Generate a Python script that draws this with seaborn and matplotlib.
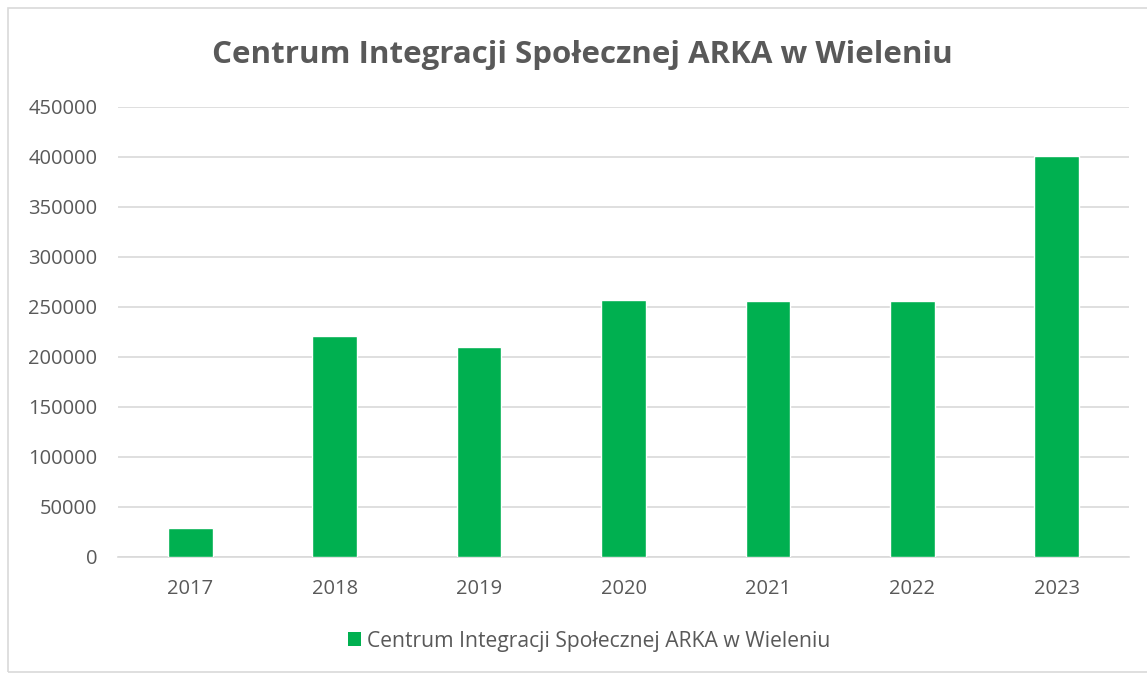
import matplotlib
matplotlib.use("Agg")
import matplotlib.pyplot as plt
import seaborn as sns
import pandas as pd
from matplotlib.patches import Rectangle, Patch

years = ["2017", "2018", "2019", "2020", "2021", "2022", "2023"]
values = [29000, 221500, 210500, 257500, 256000, 256500, 401500]
series_name = "Centrum Integracji Społecznej ARKA w Wieleniu"
title = "Centrum Integracji Społecznej ARKA w Wieleniu"
yticks = [0, 50000, 100000, 150000, 200000, 250000, 300000, 350000, 400000, 450000]

df = pd.DataFrame({"year": years, "value": values})

sns.set_theme(style="white")
plt.rcParams['font.family'] = ['Open Sans', 'DejaVu Sans']

fig = plt.figure(figsize=(11.47, 6.75), dpi=100)
ax = fig.add_axes([118/1147, 1-557/675, (1129-118)/1147, (557-107)/675])

green = "#00b050"
text_color = "#595959"
sns.barplot(data=df, x="year", y="value", color=green, width=0.31,
            saturation=1, ax=ax, zorder=3)

ax.set_ylim(0, 450000)
ax.set_yticks(yticks)
ax.set_yticklabels([str(v) for v in yticks])
ax.set_xlim(-0.5, len(years) - 0.5)
ax.grid(axis="y", color="#d9d9d9", linewidth=1.2, zorder=0)
ax.set_axisbelow(True)
for s in ["top", "right", "left"]:
    ax.spines[s].set_visible(False)
ax.spines["bottom"].set_color("#d9d9d9")
ax.spines["bottom"].set_linewidth(1.2)
ax.set_xlabel("")
ax.set_ylabel("")
ax.tick_params(axis="both", length=0, labelsize=14.5, colors=text_color)
ax.tick_params(axis="y", pad=15)
ax.tick_params(axis="x", pad=16)

fig.text(0.508, 1-55/675, title, ha="center", va="center",
         fontsize=22.5, fontweight="bold", color=text_color)

handles = [Patch(facecolor=green, edgecolor="none", label=series_name)]
leg = fig.legend(handles=handles, loc="center", bbox_to_anchor=(0.514, 1-641/675),
                 frameon=False, fontsize=15.2, handlelength=0.6, handleheight=0.6,
                 handletextpad=0.3)
for t in leg.get_texts():
    t.set_color(text_color)

fig.patches.append(Rectangle((8/1147, 0.005), 1.2, 1-8/675-0.005, transform=fig.transFigure,
                             fill=False, edgecolor="#d9d9d9", linewidth=1.2))

fig.savefig("out.png", dpi=100)
